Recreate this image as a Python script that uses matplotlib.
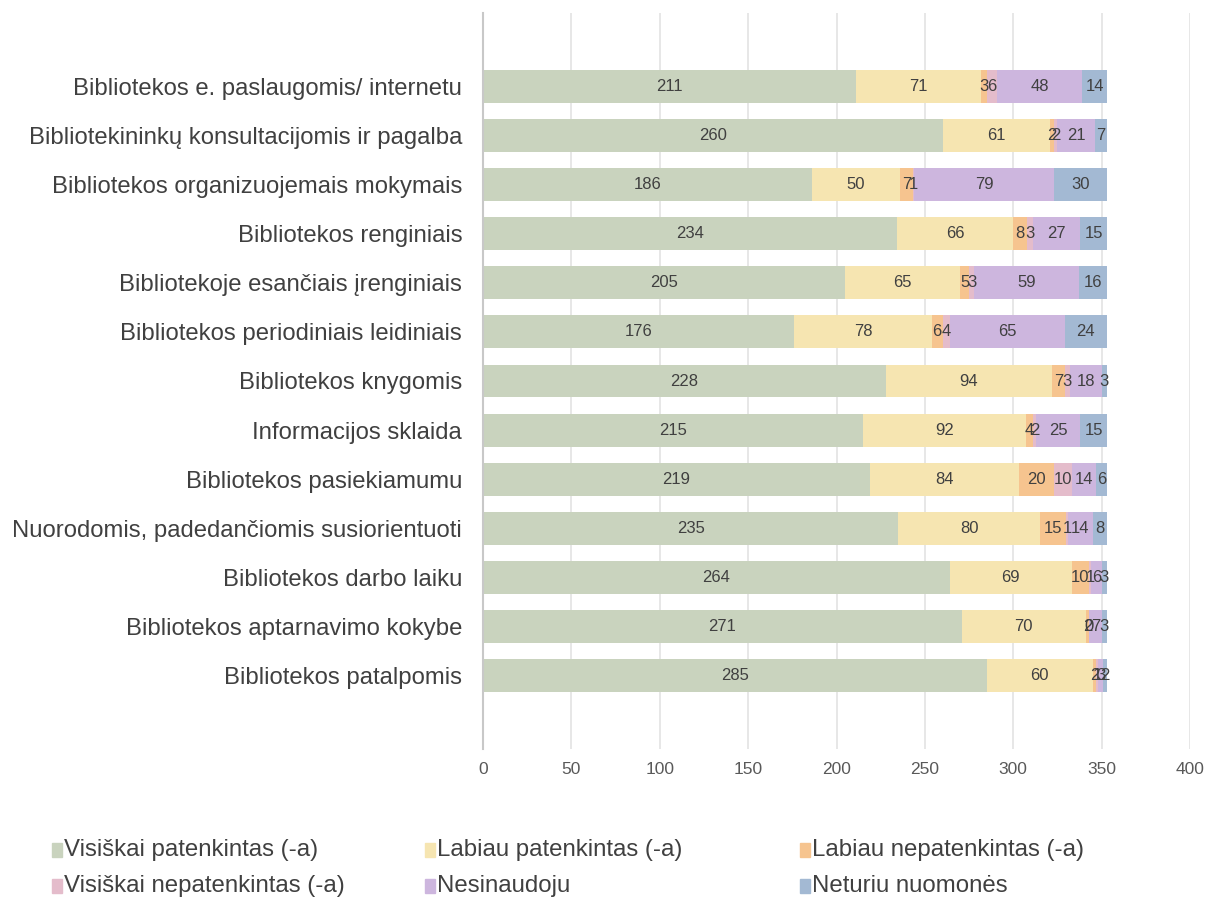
import numpy as np
import matplotlib.pyplot as plt
from matplotlib.patches import Rectangle

plt.rcParams['font.family'] = ['Liberation Sans', 'DejaVu Sans']

categories = [
    "Bibliotekos e. paslaugomis/ internetu",
    "Bibliotekininkų konsultacijomis ir pagalba",
    "Bibliotekos organizuojemais mokymais",
    "Bibliotekos renginiais",
    "Bibliotekoje esančiais įrenginiais",
    "Bibliotekos periodiniais leidiniais",
    "Bibliotekos knygomis",
    "Informacijos sklaida",
    "Bibliotekos pasiekiamumu",
    "Nuorodomis, padedančiomis susiorientuoti",
    "Bibliotekos darbo laiku",
    "Bibliotekos aptarnavimo kokybe",
    "Bibliotekos patalpomis",
]
series_names = [
    "Visiškai patenkintas (-a)",
    "Labiau patenkintas (-a)",
    "Labiau nepatenkintas (-a)",
    "Visiškai nepatenkintas (-a)",
    "Nesinaudoju",
    "Neturiu nuomonės",
]
visiskai_pat = [211, 260, 186, 234, 205, 176, 228, 215, 219, 235, 264, 271, 285]
labiau_pat = [71, 61, 50, 66, 65, 78, 94, 92, 84, 80, 69, 70, 60]
labiau_nepat = [3, 2, 7, 8, 5, 6, 7, 4, 20, 15, 10, 2, 2]
visiskai_nepat = [6, 2, 1, 3, 3, 4, 3, 2, 10, 1, 1, 0, 1]
nesinaudoju = [48, 21, 79, 27, 59, 65, 18, 25, 14, 14, 6, 7, 3]
neturiu = [14, 7, 30, 15, 16, 24, 3, 15, 6, 8, 3, 3, 2]
series = [visiskai_pat, labiau_pat, labiau_nepat, visiskai_nepat, nesinaudoju, neturiu]
colors = ["#C9D3BE", "#F6E5B1", "#F6C48F", "#E4BCCB", "#CDB6DE", "#A3B9D3"]

fig = plt.figure(figsize=(12.1, 9.01), dpi=100)
ax = fig.add_axes([483 / 1210, 152 / 901, 707 / 1210, 736 / 901])

y = np.arange(len(categories))
left = np.zeros(len(categories))
for vals, col, name in zip(series, colors, series_names):
    vals = np.array(vals)
    bars = ax.barh(y, vals, left=left, height=0.67, color=col, label=name, zorder=2)
    ax.bar_label(bars, labels=[str(v) for v in vals], label_type='center',
                 fontsize=12, color='#404040')
    left += vals

ax.set_ylim(len(categories) - 1 + 1.5, -1.5)
ax.set_xlim(0, 400)
ax.set_xticks(np.arange(0, 401, 50))
ax.set_yticks(y)
ax.set_yticklabels(categories, fontsize=17.2, color='#404040')
ax.tick_params(axis='x', labelsize=12.5, colors='#595959', length=0, pad=9)
ax.tick_params(axis='y', length=0, pad=15)
ax.grid(axis='x', color='#E3E3E3', linewidth=1.2, zorder=0)
for s in ['top', 'right', 'bottom']:
    ax.spines[s].set_visible(False)
ax.spines['left'].set_color('#C8C8C8')
ax.spines['left'].set_linewidth(1.5)

# legend, laid out in rows like the original
leg_x = [52, 425, 800]
leg_y = [850, 886]
for i, (name, col) in enumerate(zip(series_names, colors)):
    px = leg_x[i % 3]
    py = leg_y[i // 3]
    fig.patches.append(Rectangle((px / 1210, 1 - (py + 7) / 901), 10 / 1210, 14 / 901,
                                 transform=fig.transFigure, color=col))
    fig.text((px + 12) / 1210, 1 - py / 901, name, fontsize=17.3, color='#404040',
             va='center', ha='left')

fig.savefig("out.png", dpi=100)
